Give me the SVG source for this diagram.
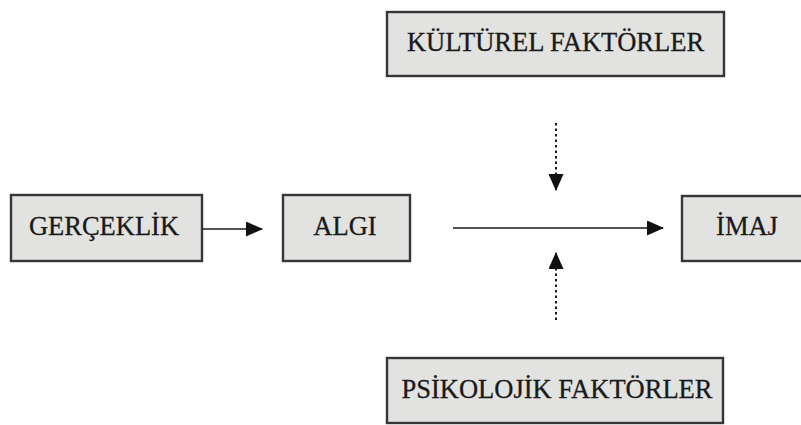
<svg xmlns="http://www.w3.org/2000/svg" width="801" height="425" viewBox="0 0 801 425">
<defs>
<style>
.box{fill:#e2e2e0;stroke:#363636;stroke-width:2.4}
.lbl{font-family:"Liberation Serif","Times New Roman",serif;font-size:26.5px;fill:#1a1a1a;text-anchor:middle;stroke:#1a1a1a;stroke-width:0.3}
.conn{stroke:#1a1a1a;stroke-width:1.6;fill:none}
.dot{stroke:#1a1a1a;stroke-width:2;fill:none;stroke-dasharray:2.5 3}
</style>
<marker id="ahl" markerWidth="17" markerHeight="15" refX="16" refY="7.5" orient="auto" markerUnits="userSpaceOnUse" viewBox="0 0 17 15">
<path d="M0,0 L17,7.5 L0,15 Z" fill="#111"/>
</marker>
</defs>
<rect width="801" height="425" fill="#ffffff"/>
<g id="kulturel">
<rect class="box" x="387" y="12" width="337" height="64"/>
<text class="lbl" x="555.5" y="51">KÜLTÜREL FAKTÖRLER</text>
</g>
<g id="gerceklik">
<rect class="box" x="11" y="195" width="191" height="66"/>
<text class="lbl" x="104" y="235">GERÇEKLİK</text>
</g>
<g id="algi">
<rect class="box" x="283" y="195" width="127" height="66"/>
<text class="lbl" x="345" y="235">ALGI</text>
</g>
<g id="imaj">
<rect class="box" x="682" y="196" width="130" height="65"/>
<text class="lbl" x="747" y="235">İMAJ</text>
</g>
<g id="psikolojik">
<rect class="box" x="387" y="358" width="336" height="65"/>
<text class="lbl" x="557" y="398">PSİKOLOJİK FAKTÖRLER</text>
</g>
<g id="connectors">
<line class="conn" x1="202" y1="229" x2="262" y2="229" marker-end="url(#ahl)"/>
<line class="conn" x1="453" y1="228" x2="663" y2="228" marker-end="url(#ahl)"/>
<line class="dot" x1="556" y1="123" x2="556" y2="190" marker-end="url(#ahl)"/>
<line class="dot" x1="556" y1="320" x2="556" y2="253" marker-end="url(#ahl)"/>
</g>
</svg>
